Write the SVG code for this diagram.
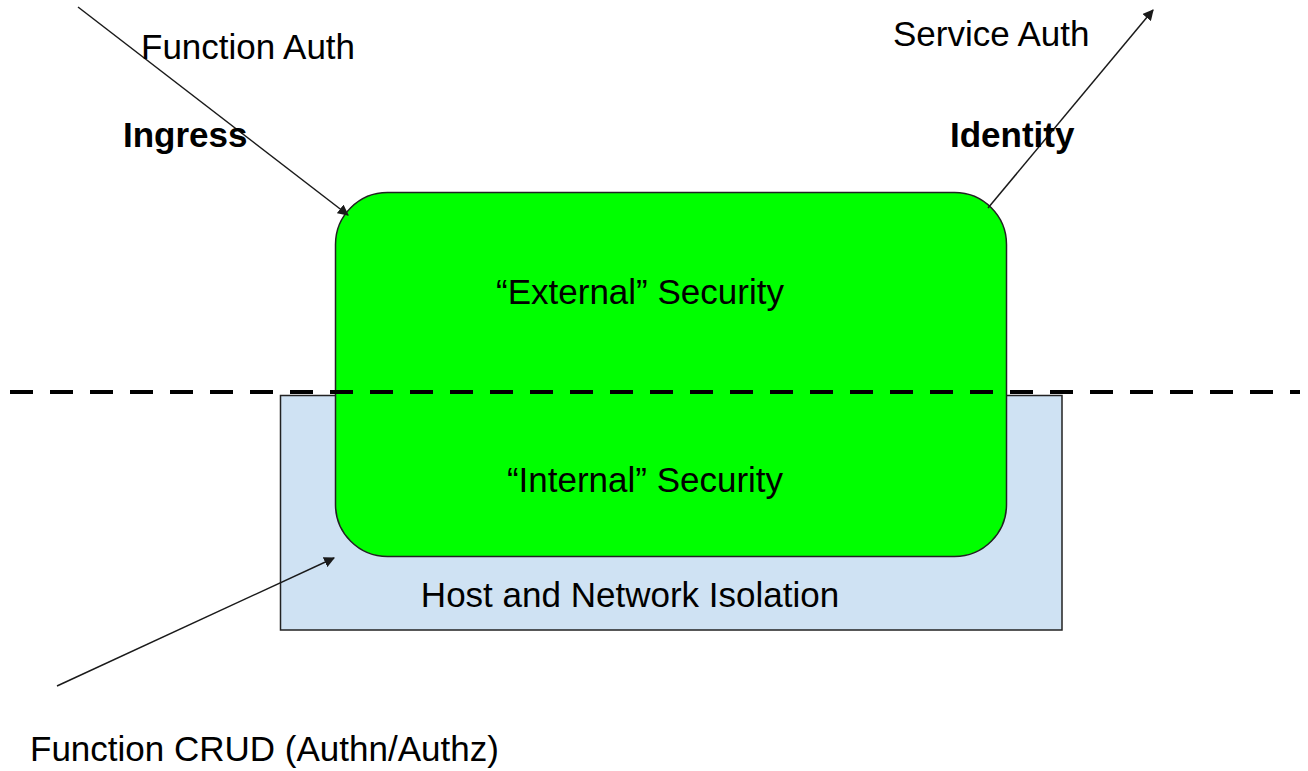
<svg xmlns="http://www.w3.org/2000/svg" width="1308" height="771" viewBox="0 0 1308 771">
<style>
text{font-family:"Liberation Sans",Arial,sans-serif;font-size:35px;fill:#000}
.b{font-weight:bold}
.c{text-anchor:middle}
.arr{stroke:#1a1a1a;stroke-width:1.5;fill:none;marker-end:url(#ah)}
</style>
<defs>
<marker id="ah" viewBox="0 0 10 10" refX="9" refY="5" markerWidth="11" markerHeight="11" markerUnits="userSpaceOnUse" orient="auto">
<path d="M0,0 L10,5 L0,10 z" fill="#1a1a1a"/>
</marker>
</defs>
<rect width="1308" height="771" fill="#fff"/>
<g id="host">
<rect x="280.5" y="395.5" width="781.5" height="234.5" fill="#cfe2f3" stroke="#222" stroke-width="1.5"/>
<text x="630" y="607" class="c">Host and Network Isolation</text>
</g>
<g id="security">
<rect x="335.5" y="192.5" width="671" height="364" rx="52" ry="52" fill="#00ff00" stroke="#222" stroke-width="1.5"/>
<text x="640" y="304" class="c">“External” Security</text>
<text x="645" y="492" class="c">“Internal” Security</text>
</g>
<g id="boundary">
<line x1="10" y1="392" x2="1300" y2="392" stroke="#000" stroke-width="4" stroke-dasharray="23 17"/>
</g>
<g id="connectors">
<line class="arr" x1="78" y1="7" x2="348" y2="215"/>
<line class="arr" x1="988" y1="208" x2="1153" y2="10"/>
<line class="arr" x1="57" y1="686" x2="334" y2="558"/>
</g>
<g id="labels">
<text x="141" y="59">Function Auth</text>
<text x="123" y="147" class="b">Ingress</text>
<text x="893" y="46">Service Auth</text>
<text x="950" y="147" class="b">Identity</text>
<text x="30" y="761">Function CRUD (Authn/Authz)</text>
</g>
</svg>
